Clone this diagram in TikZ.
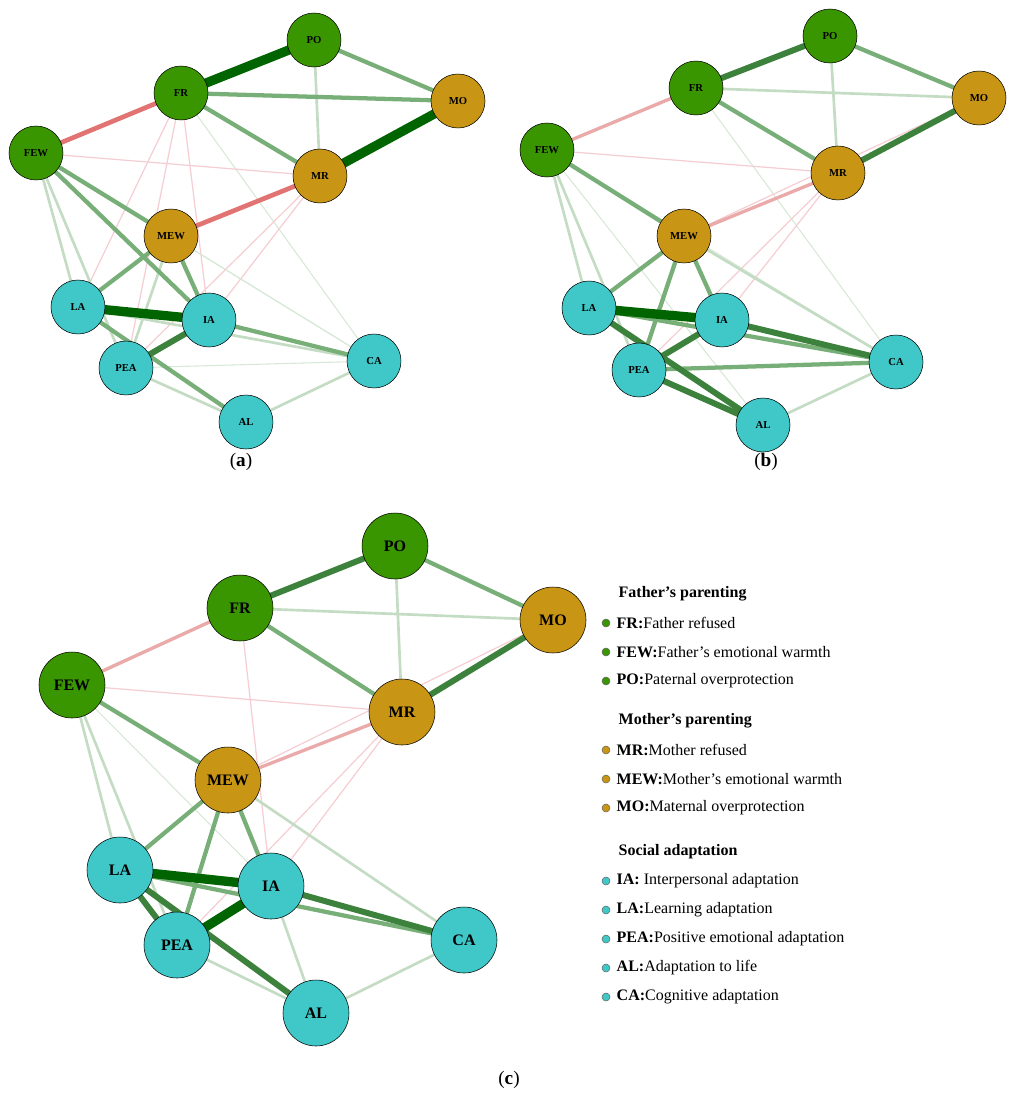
\documentclass[tikz,border=0pt]{standalone}
\usepackage{fontspec}
\setmainfont{Liberation Serif}
\definecolor{fgreen}{RGB}{58,150,0}
\definecolor{mgold}{RGB}{200,150,20}
\definecolor{scyan}{RGB}{64,200,200}
\tikzset{
  vtx/.style={circle,draw=black,thin,minimum size=54*0.75pt,inner sep=0pt,font=\bfseries\footnotesize},
  big/.style={minimum size=66*0.75pt,font=\bfseries\large},
  gvs/.style={draw={rgb,255:red,0;green,100;blue,0},line width=7pt},
  gs/.style={draw={rgb,255:red,60;green,130;blue,60},line width=4.5pt},
  gm/.style={draw={rgb,255:red,120;green,175;blue,120},line width=3.2pt},
  gl/.style={draw={rgb,255:red,195;green,220;blue,195},line width=2pt},
  gf/.style={draw={rgb,255:red,215;green,232;blue,215},line width=0.8pt},
  rs/.style={draw={rgb,255:red,225;green,115;blue,115},line width=3.5pt},
  rl/.style={draw={rgb,255:red,235;green,170;blue,170},line width=2.5pt},
  rf/.style={draw={rgb,255:red,245;green,205;blue,210},line width=0.9pt},
  dot/.style={circle,draw=black!60,inner sep=0pt,minimum size=6pt}
}
\begin{document}
\begin{tikzpicture}[x=0.75pt,y=0.75pt,yscale=-1,xscale=1]
\useasboundingbox (0,0) rectangle (1017,1102);

% panel a nodes
\foreach \n/\x/\y/\c in {PO/314/40/fgreen,MO/458/101/mgold,FR/181/93/fgreen,FEW/36/153/fgreen,MR/320/176/mgold,MEW/171/236/mgold,LA/78/307/scyan,IA/209/320/scyan,CA/374/361/scyan,PEA/126/368/scyan,AL/246/422/scyan}
  \coordinate (a\n) at (\x,\y);
% panel b nodes
\foreach \n/\x/\y/\c in {PO/830/36/fgreen,MO/979/98/mgold,FR/696/88/fgreen,FEW/547/150/fgreen,MR/838/173/mgold,MEW/684/236/mgold,LA/589/308/scyan,IA/722/320/scyan,CA/896/362/scyan,PEA/639/370/scyan,AL/763/425/scyan}
  \coordinate (b\n) at (\x,\y);
% panel c nodes
\foreach \n/\x/\y/\c in {PO/395/546/fgreen,MO/553/620/mgold,FR/240/608/fgreen,FEW/72/685/fgreen,MR/402/712/mgold,MEW/228/780/mgold,LA/120/870/scyan,IA/271/886/scyan,CA/464/940/scyan,PEA/177/945/scyan,AL/316/1013/scyan}
  \coordinate (c\n) at (\x,\y);

% edges (a)
\foreach \u/\v/\s in {FR/CA/gf,FEW/CA/gf,FEW/MR/rf,FR/LA/rf,FR/IA/rf,FR/PEA/rf,MR/IA/rf,MR/PEA/rf,MEW/CA/gf,LA/CA/gl,PEA/CA/gf,CA/AL/gl,FEW/LA/gl,FEW/PEA/gl,PEA/AL/gl,MEW/PEA/gl,PO/MR/gl,FR/MO/gm,PO/MO/gm,FR/MR/gm,FR/FEW/gl,FEW/FR/rs,FEW/MEW/gm,FEW/IA/gm,LA/MEW/gm,MEW/IA/gm,IA/CA/gm,LA/AL/gm,MEW/MR/rs,PEA/IA/gs,FR/PO/gvs,MO/MR/gvs,LA/IA/gvs}
  \path[\s] (a\u) -- (a\v);
% edges (b)
\foreach \u/\v/\s in {FR/CA/gf,FEW/CA/gf,FEW/MR/rf,MEW/MO/rf,MR/IA/rf,MR/PEA/rf,MEW/CA/gl,CA/AL/gl,FEW/LA/gl,FEW/PEA/gl,FEW/AL/gf,FR/MO/gl,PO/MR/gl,FR/FEW/gl,FEW/FR/rl,PO/MO/gm,FR/MR/gm,FEW/MEW/gm,LA/MEW/gm,MEW/PEA/gm,MEW/IA/gm,LA/CA/gm,PEA/CA/gm,IA/CA/gs,LA/AL/gs,PEA/AL/gs,MEW/MR/rl,FR/PO/gs,MO/MR/gs,PEA/IA/gs,LA/IA/gvs}
  \path[\s] (b\u) -- (b\v);
% edges (c)
\foreach \u/\v/\s in {FEW/MR/rf,MEW/MO/rf,FR/IA/rf,MR/IA/rf,MR/PEA/rf,MEW/CA/gl,CA/AL/gl,FEW/LA/gl,FEW/PEA/gl,FEW/IA/gf,IA/AL/gl,FR/MO/gl,PO/MR/gl,FR/FEW/gl,FEW/FR/rl,PO/MO/gm,FR/MR/gm,FEW/MEW/gm,LA/MEW/gm,MEW/PEA/gm,MEW/IA/gm,LA/CA/gm,PEA/AL/gl,IA/CA/gs,LA/AL/gs,MEW/MR/rl,FR/PO/gs,MO/MR/gs,LA/PEA/gs,PEA/IA/gvs,LA/IA/gvs}
  \path[\s] (c\u) -- (c\v);

% node discs
\foreach \p in {a,b}
  \foreach \n/\c in {PO/fgreen,MO/mgold,FR/fgreen,FEW/fgreen,MR/mgold,MEW/mgold,LA/scyan,IA/scyan,CA/scyan,PEA/scyan,AL/scyan}
    \node[vtx,fill=\c] (\p\n n) at (\p\n) {\n};
\foreach \n/\c in {PO/fgreen,MO/mgold,FR/fgreen,FEW/fgreen,MR/mgold,MEW/mgold,LA/scyan,IA/scyan,CA/scyan,PEA/scyan,AL/scyan}
  \node[vtx,big,fill=\c] (c\n n) at (c\n) {\n};

% captions
\node[font=\Large] (capa) at (241,462) {(\textbf{a})};
\node[font=\Large] (capb) at (766,462) {(\textbf{b})};
\node[font=\Large] (capc) at (509,1080) {(\textbf{c})};

% legend
\foreach \y/\t in {594/Father's parenting,721/Mother's parenting,852/Social adaptation}
  \node[anchor=west,font=\large\bfseries] at (614,\y) {\t};
\foreach \y/\c/\k/\t in {623/fgreen/FR:/Father refused,652/fgreen/FEW:/Father's emotional warmth,681/fgreen/PO:/Paternal overprotection,750/mgold/MR:/Mother refused,779/mgold/MEW:/Mother's emotional warmth,808/mgold/MO:/Maternal overprotection,881/scyan/IA:/ Interpersonal adaptation,910/scyan/LA:/Learning adaptation,939/scyan/PEA:/Positive emotional adaptation,968/scyan/AL:/Adaptation to life,997/scyan/CA:/Cognitive adaptation}
{
  \node[dot,fill=\c] at (606,\y) {};
  \node[anchor=west,font=\large] at (612,\y) {\textbf{\k}\t};
}
\end{tikzpicture}
\end{document}
